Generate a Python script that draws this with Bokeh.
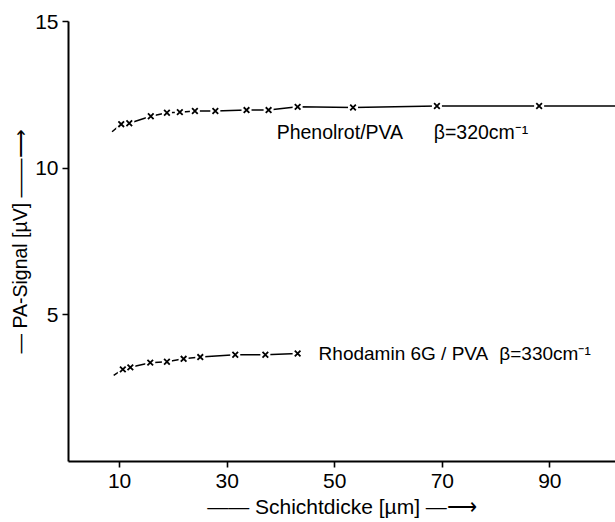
from bokeh.plotting import figure
from bokeh.models import Range1d, FixedTicker, Label
from bokeh.embed import file_html
from bokeh.resources import INLINE

# Data
phen_x = [10.3, 11.8, 15.8, 18.8, 21.2, 24.0, 27.8, 33.6, 37.7, 43.1, 53.4, 69.0, 88.0]
phen_y = [11.50, 11.53, 11.77, 11.89, 11.91, 11.95, 11.95, 11.98, 11.98, 12.09, 12.07, 12.12, 12.12]
phen_start = (8.6, 11.24)
phen_end = (102.2, 12.12)

rhod_x = [10.6, 12.0, 15.7, 18.8, 21.9, 25.0, 31.5, 37.1, 43.1]
rhod_y = [3.14, 3.21, 3.37, 3.40, 3.50, 3.56, 3.64, 3.64, 3.68]
rhod_start = (8.9, 2.94)

x_ticks = [10, 30, 50, 70, 90]
y_ticks = [5, 10, 15]

FONT = "Liberation Sans"

p = figure(width=615, height=522, output_backend="svg", toolbar_location=None,
           x_range=Range1d(0.5, 102.2), y_range=Range1d(0, 15),
           min_border_left=68, min_border_right=0, min_border_top=21, min_border_bottom=61)
p.outline_line_color = None
p.xgrid.visible = False
p.ygrid.visible = False
p.background_fill_color = "white"
p.border_fill_color = "white"

for ax in (p.xaxis[0], p.yaxis[0]):
    ax.axis_line_width = 2
    ax.axis_line_color = "black"
    ax.major_tick_line_color = "black"
    ax.major_tick_line_width = 1.6
    ax.major_tick_out = 6
    ax.major_tick_in = 0
    ax.minor_tick_line_color = None
    ax.major_label_text_font = FONT
    ax.major_label_text_font_size = "21px"
    ax.major_label_text_color = "black"
    ax.axis_label_text_font = FONT
    ax.axis_label_text_font_style = "normal"
    ax.axis_label_text_color = "black"

p.xaxis.ticker = FixedTicker(ticks=x_ticks)
p.yaxis.ticker = FixedTicker(ticks=y_ticks)
p.xaxis.major_label_standoff = 6
p.yaxis.major_label_standoff = 4
p.xaxis.axis_label = "\u2014\u2014 Schichtdicke [\u00b5m] \u2014\u27f6"
p.yaxis.axis_label = "\u2014 PA-Signal [\u00b5V] \u2014\u2014\u27f6"
p.xaxis.axis_label_text_font_size = "21px"
p.yaxis.axis_label_text_font_size = "19.5px"
p.xaxis.axis_label_standoff = 4
p.yaxis.axis_label_standoff = 1

# fitted curves
p.line([phen_start[0]] + phen_x + [phen_end[0]], [phen_start[1]] + phen_y + [phen_end[1]],
       line_color="black", line_width=1.5)
p.line([rhod_start[0]] + rhod_x, [rhod_start[1]] + rhod_y,
       line_color="black", line_width=1.5)

# gaps around markers, then the markers
for xs, ys in ((phen_x, phen_y), (rhod_x, rhod_y)):
    p.scatter(xs, ys, marker="square", size=10, fill_color="white", line_color=None)
    p.scatter(xs, ys, marker="x", size=8, line_color="black", line_width=1.8)

lab = dict(text_font=FONT, text_color="black", text_baseline="middle")
p.add_layout(Label(x=39.2, y=11.23, text="Phenolrot/PVA", text_font_size="19.5px", **lab))
p.add_layout(Label(x=68.4, y=11.23, text="\u03b2=320cm\u207b\u00b9", text_font_size="19.5px", **lab))
p.add_layout(Label(x=47.0, y=3.69, text="Rhodamin 6G / PVA", text_font_size="19px", **lab))
p.add_layout(Label(x=80.6, y=3.69, text="\u03b2=330cm\u207b\u00b9", text_font_size="19px", **lab))

open("out.html", "w").write(file_html(p, INLINE))
